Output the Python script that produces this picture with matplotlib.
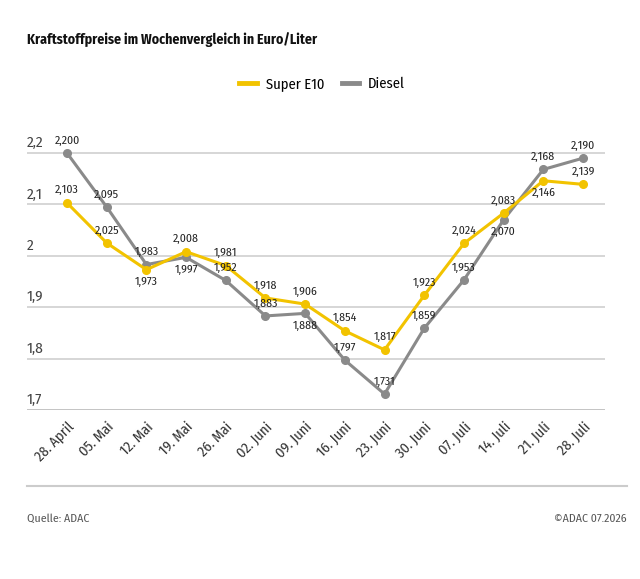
import numpy as np
import matplotlib
matplotlib.use("Agg")
import matplotlib.pyplot as plt
from matplotlib.lines import Line2D

plt.rcParams['font.family'] = ['Fira Sans Condensed', 'Ubuntu Condensed', 'DejaVu Sans']

# Daten
wochen = ["28. April", "05. Mai", "12. Mai", "19. Mai", "26. Mai", "02. Juni", "09. Juni",
          "16. Juni", "23. Juni", "30. Juni", "07. Juli", "14. Juli", "21. Juli", "28. Juli"]
super_e10 = [2.103, 2.025, 1.973, 2.008, 1.981, 1.918, 1.906, 1.854, 1.817, 1.923, 2.024, 2.083, 2.146, 2.139]
diesel = [2.200, 2.095, 1.983, 1.997, 1.952, 1.883, 1.888, 1.797, 1.731, 1.859, 1.953, 2.070, 2.168, 2.190]
# Lage der Beschriftung: +1 oberhalb, -1 unterhalb
pos_super = [1, 1, -1, 1, 1, 1, 1, 1, 1, 1, 1, 1, -1, 1]
pos_diesel = [1, 1, 1, -1, 1, 1, -1, 1, 1, 1, 1, -1, 1, 1]
y_ticks = [1.7, 1.8, 1.9, 2.0, 2.1, 2.2]

GELB = "#f2c300"
GRAU = "#8a8a8a"
TEXT = "#222222"

W, H = 640, 579
fig = plt.figure(figsize=(W / 100, H / 100), dpi=100)

# Achse in Pixeln: links 27, rechts 605, unten 410 (1,7), 2,2 bei 153
px_per_unit = (410 - 153) / 0.5
y_top = 2.25
top_px = 410 - (y_top - 1.7) * px_per_unit
ax = fig.add_axes([27 / W, 1 - 410 / H, (605 - 27) / W, (410 - top_px) / H])

x = np.arange(len(wochen))
step = (583 - 67) / 13
ax.set_xlim((27 - 67) / step, (605 - 67) / step)
ax.set_ylim(1.7, y_top)

for yt in y_ticks:
    farbe = "#c4c4c4" if yt == 1.7 else "#d6d6d6"
    ax.axhline(yt, color=farbe, lw=1.4, zorder=1)
    ax.annotate(("%g" % yt).replace(".", ","), xy=(0, yt), xycoords=("axes fraction", "data"),
                xytext=(0, 2), textcoords="offset points", ha="left", va="bottom",
                fontsize=11, color="#444444")

ax.plot(x, diesel, color=GRAU, lw=2.2, marker="o", ms=5.5, zorder=3, clip_on=False)
ax.plot(x, super_e10, color=GELB, lw=2.2, marker="o", ms=5.5, zorder=4, clip_on=False)

for xi, v, p in zip(x, diesel, pos_diesel):
    ax.annotate(f"{v:.3f}".replace(".", ","), (xi, v), xytext=(0, 9 * p), textcoords="offset points",
                ha="center", va="center", fontsize=8.5, color=TEXT, zorder=5)
for xi, v, p in zip(x, super_e10, pos_super):
    ax.annotate(f"{v:.3f}".replace(".", ","), (xi, v), xytext=(0, 9 * p), textcoords="offset points",
                ha="center", va="center", fontsize=8.5, color=TEXT, zorder=5)

ax.set_xticks(x)
ax.set_xticklabels(wochen, rotation=45, ha="right", rotation_mode="anchor", fontsize=10.5, color="#333333")
ax.tick_params(axis="x", length=0, pad=7)
ax.set_yticks([])
for s in ax.spines.values():
    s.set_visible(False)

# Titel, Legende, Fuss
fig.text(27 / W, 1 - 40 / H, "Kraftstoffpreise im Wochenvergleich in Euro/Liter",
         fontsize=10, fontweight="bold", color="#111111", va="center")
handles = [Line2D([], [], color=GELB, lw=3.5), Line2D([], [], color=GRAU, lw=3.5)]
fig.legend(handles, ["Super E10", "Diesel"], loc="center", bbox_to_anchor=(322 / W, 1 - 84 / H),
           ncol=2, frameon=False, fontsize=10.5, handlelength=1.2, columnspacing=1.2, handletextpad=0.6)
fig.add_artist(Line2D([27 / W, 627 / W], [1 - 486 / H, 1 - 486 / H], color="#cccccc", lw=1.5))
fig.text(27 / W, 1 - 519 / H, "Quelle: ADAC", fontsize=8.5, color="#555555", va="center")
fig.text(627 / W, 1 - 519 / H, "©ADAC 07.2026", fontsize=8.5, color="#555555", va="center", ha="right")

fig.savefig("out.png", dpi=100)
